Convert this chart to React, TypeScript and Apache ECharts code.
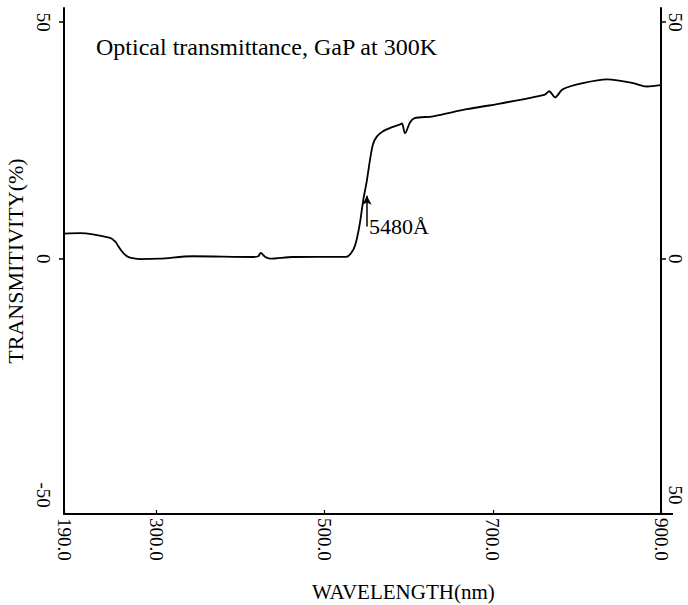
import React, { useEffect, useRef } from "react";
import * as echarts from "echarts";

// wavelength (nm) and transmittance (%)
const wavelength: number[] = [
  190, 209, 245, 251, 254, 259, 264, 268.5, 280, 304, 343, 415, 421, 424, 429, 435, 462,
  526, 534, 538, 542, 546, 550, 554, 557.5, 562, 569, 580, 590, 592, 595.5, 601.5, 607, 629,
  669, 708.5, 762, 767, 774, 783, 807, 836, 848, 867, 883, 900,
];
const transmittance: number[] = [
  5.3, 5.4, 4.4, 3.6, 2.8, 1.5, 0.6, 0.2, -0.1, 0, 0.5, 0.35, 0.5, 1.2, 0.4, 0, 0.35,
  0.4, 1.9, 4.0, 7.6, 12.5, 16.3, 21.0, 24.2, 25.8, 26.9, 27.8, 28.4, 28.6, 26.5, 28.8, 29.7, 30.1,
  31.6, 32.8, 34.7, 35.4, 34.1, 35.8, 37.1, 37.9, 37.7, 37.1, 36.4, 36.7,
];
const xTicks: number[] = [190, 300, 500, 700, 900];
const yTicks: number[] = [-50, 0, 50];
const titleText = "Optical transmittance, GaP at 300K";
const xName = "WAVELENGTH(nm)";
const yName = "TRANSMITIVITY(%)";
const edgeLabel = "5480Å";
const edgeWavelength = 550.3;
const arrowFrom = 6.8;
const arrowTo = 13.3;

const FONT = "'Liberation Serif', 'DejaVu Serif', serif";

export default function App() {
  const ref = useRef<HTMLDivElement>(null);
  useEffect(() => {
    if (!ref.current) return;
    const chart = echarts.init(ref.current, undefined, { renderer: "svg" });
    const axisLine = { show: true, lineStyle: { color: "#000", width: 2 } };
    const yAxisCommon = {
      type: "value" as const,
      min: -54,
      max: 53,
      splitLine: { show: false },
      axisLine: { ...axisLine, onZero: false },
      axisTick: { show: true, customValues: [0, 50], length: 5, lineStyle: { color: "#000", width: 1.5 } },
    };
    chart.setOption({
      animation: false,
      backgroundColor: "#fff",
      grid: { left: 64, right: 27, top: 8, bottom: 91, containLabel: false, outerBoundsMode: "none" },
      xAxis: {
        type: "value",
        min: 190,
        max: 900,
        splitLine: { show: false },
        axisLine: { ...axisLine, onZero: false },
        axisTick: { show: true, inside: true, customValues: xTicks, length: 4, lineStyle: { color: "#000", width: 1.2 } },
        axisLabel: {
          customValues: xTicks,
          rotate: -90,
          formatter: (v: number) => v.toFixed(1),
          color: "#000",
          fontFamily: FONT,
          fontSize: 19,
          margin: 4,
        },
      },
      yAxis: [
        {
          ...yAxisCommon,
          position: "left",
          name: yName,
          nameLocation: "middle",
          nameRotate: 90,
          nameGap: 38,
          nameTextStyle: { color: "#000", fontFamily: FONT, fontSize: 22 },
          axisLabel: {
            customValues: yTicks,
            rotate: -90,
            color: "#000",
            fontFamily: FONT,
            fontSize: 19,
            margin: 11,
          },
        },
        {
          ...yAxisCommon,
          position: "right",
          axisLabel: {
            customValues: yTicks,
            rotate: -90,
            formatter: (v: number) => String(Math.abs(v)),
            color: "#000",
            fontFamily: FONT,
            fontSize: 19,
            margin: 5,
          },
        },
      ],
      series: [
        {
          type: "line",
          data: wavelength.map((w, i) => [w, transmittance[i]]),
          showSymbol: false,
          smooth: 0.3,
          lineStyle: { color: "#000", width: 1.8 },
          markLine: {
            silent: true,
            symbol: ["none", "arrow"],
            symbolSize: [7, 9],
            lineStyle: { color: "#000", width: 1.5, type: "solid" },
            label: { show: false },
            data: [[{ coord: [edgeWavelength, arrowFrom] }, { coord: [edgeWavelength, arrowTo] }]],
          },
          markPoint: {
            silent: true,
            symbol: "circle",
            symbolSize: 0,
            label: {
              show: true,
              position: "right",
              distance: 2,
              formatter: edgeLabel,
              color: "#000",
              fontFamily: FONT,
              fontSize: 22,
            },
            data: [{ coord: [edgeWavelength, (arrowFrom + arrowTo) / 2 - 3.2] }],
          },
        },
      ],
      graphic: [
        {
          type: "text",
          left: 96,
          top: 35,
          style: { text: titleText, fill: "#000", font: `24px ${FONT}` },
        },
        {
          type: "text",
          left: 312,
          top: 581,
          style: { text: xName, fill: "#000", font: `21px ${FONT}` },
        },
        {
          type: "line",
          shape: { x1: 660, y1: 514, x2: 673, y2: 514 },
          style: { stroke: "#000", lineWidth: 2 },
        },
      ],
    });
    return () => chart.dispose();
  }, []);
  return <div ref={ref} style={{ position: "absolute", left: 0, top: 0, width: 688, height: 605 }} />;
}
